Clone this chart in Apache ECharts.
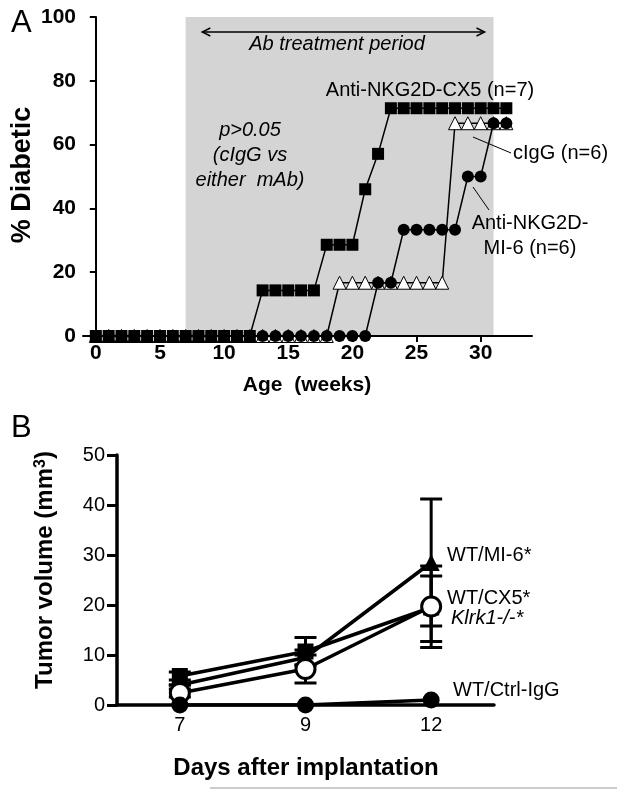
<!DOCTYPE html>
<html><head><meta charset="utf-8">
<script src="https://cdn.jsdelivr.net/npm/echarts@6/dist/echarts.min.js"></script>
<style>html,body{margin:0;padding:0;background:#fff}#c{width:617px;height:789px}</style>
</head><body><div id="c"></div>
<script>
// ---------- Panel A data ----------
const weeks = [0,1,2,3,4,5,6,7,8,9,10,11,12,13,14,15,16,17,18,19,20,21,22,23,24,25,26,27,28,29,30,31,32];
const cx5  = [0,0,0,0,0,0,0,0,0,0,0,0,0,14.3,14.3,14.3,14.3,14.3,28.6,28.6,28.6,46,57.1,71.4,71.4,71.4,71.4,71.4,71.4,71.4,71.4,71.4,71.4];
const cigg = [0,0,0,0,0,0,0,0,0,0,0,0,0,0,0,0,0,0,0,16.7,16.7,16.7,16.7,16.7,16.7,16.7,16.7,16.7,66.7,66.7,66.7,66.7,66.7];
const mi6  = [0,0,0,0,0,0,0,0,0,0,0,0,0,0,0,0,0,0,0,0,0,0,16.7,16.7,33.3,33.3,33.3,33.3,33.3,50,50,66.7,66.7];
const weekTicks = [0,5,10,15,20,25,30];
const treatStart = 7, treatEnd = 31;
const arrowFrom = 8.3, arrowTo = 30.3, arrowLevel = 95.3;

// ---------- Panel B data ----------
const days = ['7','9','12'];
const wtMI6  = [4.0, 9.5, 28.5];
const wtMI6Lo = [4.0, 8.0, 15.8];
const wtMI6Hi = [4.0, 11.0, 41.2];
const wtCX5  = [5.8, 10.7, 19.5];
const wtCX5Lo = [5.0, 8.0, 12.7];
const wtCX5Hi = [6.6, 13.5, 25.8];
const klrk1  = [2.4, 7.2, 19.7];
const klrk1Lo = [1.6, 4.4, 11.5];
const klrk1Hi = [3.2, 10.0, 27.8];
const ctrlIgG = [0, 0, 1.0];

const chart = echarts.init(document.getElementById('c'), null, {renderer:'canvas'});
const FONT = 'Liberation Sans, Arial, sans-serif';

function pairs(xs, ys){ return xs.map((x,i)=>[x, ys[i]]); }
function errData(lo, hi){ return lo.map((l,i)=>[i, l, hi[i]]); }

function errRender(params, api){
  const lo = api.coord([api.value(0), api.value(1)]);
  const hi = api.coord([api.value(0), api.value(2)]);
  const w = 11;
  const st = {stroke:'#000', lineWidth:3};
  return {type:'group', children:[
    {type:'line', shape:{x1:lo[0],y1:lo[1],x2:hi[0],y2:hi[1]}, style:st},
    {type:'line', shape:{x1:hi[0]-w,y1:hi[1],x2:hi[0]+w,y2:hi[1]}, style:st},
    {type:'line', shape:{x1:lo[0]-w,y1:lo[1],x2:lo[0]+w,y2:lo[1]}, style:st}
  ]};
}

const option = {
  animation:false,
  backgroundColor:'#fff',
  grid:[
    {left:83, top:17, width:449, height:319},
    {left:117, top:455, width:377, height:250}
  ],
  xAxis:[
    {gridIndex:0, type:'value', min:-1, max:34, z:1,
      axisLine:{lineStyle:{color:'#000', width:2}},
      axisTick:{customValues:weekTicks, length:6, lineStyle:{color:'#000', width:2}},
      axisLabel:{customValues:weekTicks, color:'#000', fontSize:21, fontWeight:'bold', fontFamily:FONT, margin:7},
      splitLine:{show:false}},
    {gridIndex:1, type:'category', data:days, boundaryGap:true, z:1,
      axisLine:{lineStyle:{color:'#000', width:3.5}},
      axisTick:{alignWithLabel:true, length:7, lineStyle:{color:'#000', width:3}},
      axisLabel:{color:'#000', fontSize:20, fontFamily:FONT, margin:10},
      splitLine:{show:false}}
  ],
  yAxis:[
    {gridIndex:0, type:'value', min:0, max:100, interval:20, z:1,
      axisLine:{show:true, lineStyle:{color:'#000', width:2}},
      axisTick:{show:true, length:6, lineStyle:{color:'#000', width:2}},
      axisLabel:{color:'#000', fontSize:21, fontWeight:'bold', fontFamily:FONT, margin:7},
      splitLine:{show:false}},
    {gridIndex:1, type:'value', min:0, max:50, interval:10, z:1,
      axisLine:{show:true, lineStyle:{color:'#000', width:3.5}},
      axisTick:{show:true, length:10, lineStyle:{color:'#000', width:3}},
      axisLabel:{color:'#000', fontSize:20, fontFamily:FONT, margin:12},
      splitLine:{show:false}}
  ],
  series:[
    {type:'line', xAxisIndex:0, yAxisIndex:0, data:[], z:0, silent:true,
      markArea:{silent:true, itemStyle:{color:'#d4d4d4'},
        data:[[{coord:[treatStart,0]},{coord:[treatEnd,100]}]]}},
    {name:'cIgG', type:'line', xAxisIndex:0, yAxisIndex:0, data:pairs(weeks,cigg), z:2,
      symbol:'triangle', symbolSize:13, showSymbol:true,
      lineStyle:{color:'#000', width:1.5}, itemStyle:{color:'#fff', borderColor:'#000', borderWidth:1}},
    {name:'MI-6', type:'line', xAxisIndex:0, yAxisIndex:0, data:pairs(weeks,mi6), z:3,
      symbol:'circle', symbolSize:12, showSymbol:true,
      lineStyle:{color:'#000', width:1.5}, itemStyle:{color:'#000'}},
    {name:'CX5', type:'line', xAxisIndex:0, yAxisIndex:0, data:pairs(weeks,cx5), z:4,
      symbol:'rect', symbolSize:12, showSymbol:true,
      lineStyle:{color:'#000', width:1.5}, itemStyle:{color:'#000'}},

    {type:'custom', xAxisIndex:1, yAxisIndex:1, data:errData(wtMI6Lo,wtMI6Hi), renderItem:errRender, z:2, encode:{x:0,y:[1,2]}},
    {type:'custom', xAxisIndex:1, yAxisIndex:1, data:errData(wtCX5Lo,wtCX5Hi), renderItem:errRender, z:2, encode:{x:0,y:[1,2]}},
    {type:'custom', xAxisIndex:1, yAxisIndex:1, data:errData(klrk1Lo,klrk1Hi), renderItem:errRender, z:2, encode:{x:0,y:[1,2]}},
    {name:'WT/MI-6*', type:'line', xAxisIndex:1, yAxisIndex:1, data:wtMI6, z:3,
      symbol:'triangle', symbolSize:17, lineStyle:{color:'#000', width:3.5}, itemStyle:{color:'#000'}},
    {name:'WT/CX5*', type:'line', xAxisIndex:1, yAxisIndex:1, data:wtCX5, z:4,
      symbol:'rect', symbolSize:16, lineStyle:{color:'#000', width:3.5}, itemStyle:{color:'#000'}},
    {name:'Klrk1-/-*', type:'line', xAxisIndex:1, yAxisIndex:1, data:klrk1, z:5,
      symbol:'circle', symbolSize:19, lineStyle:{color:'#000', width:3.5}, itemStyle:{color:'#fff', borderColor:'#000', borderWidth:3}},
    {name:'WT/Ctrl-IgG', type:'line', xAxisIndex:1, yAxisIndex:1, data:ctrlIgG, z:6,
      symbol:'circle', symbolSize:17, lineStyle:{color:'#000', width:3.5}, itemStyle:{color:'#000'}}
  ]
};
chart.setOption(option);

// annotations positioned from data coordinates
const a1 = chart.convertToPixel({xAxisIndex:0, yAxisIndex:0}, [arrowFrom, arrowLevel]);
const a2 = chart.convertToPixel({xAxisIndex:0, yAxisIndex:0}, [arrowTo, arrowLevel]);
const lineSt = {stroke:'#000', lineWidth:1.5, fill:null};
const txt = (x,y,text,extra)=>({type:'text', z:100, x:x, y:y, style:Object.assign({text:text, fill:'#000', font:'20px '+FONT, textAlign:'center', textVerticalAlign:'middle'}, extra||{})});

chart.setOption({graphic:[
  {type:'line', z:100, shape:{x1:a1[0],y1:a1[1],x2:a2[0],y2:a2[1]}, style:lineSt},
  {type:'polyline', z:100, shape:{points:[[a1[0]+8,a1[1]-4],[a1[0],a1[1]],[a1[0]+8,a1[1]+4]]}, style:lineSt},
  {type:'polyline', z:100, shape:{points:[[a2[0]-8,a2[1]-4],[a2[0],a2[1]],[a2[0]-8,a2[1]+4]]}, style:lineSt},
  txt(337,44,'Ab treatment period',{font:'italic 20px '+FONT}),
  txt(11,23,'A',{font:'31px '+FONT, textAlign:'left'}),
  txt(11,428,'B',{font:'31px '+FONT, textAlign:'left'}),
  {type:'text', z:100, x:23, y:175, rotation:Math.PI/2, style:{text:'% Diabetic', fill:'#000', font:'bold 27px '+FONT, textAlign:'center', textVerticalAlign:'middle'}},
  txt(307,385,'Age  (weeks)',{font:'bold 21px '+FONT}),
  txt(430,90,'Anti-NKG2D-CX5 (n=7)'),
  txt(250,130,'p>0.05',{font:'italic 20px '+FONT}),
  txt(250,155,'(cIgG vs',{font:'italic 20px '+FONT}),
  txt(250,180,'either  mAb)',{font:'italic 20px '+FONT}),
  txt(513,153,'cIgG (n=6)',{textAlign:'left'}),
  {type:'line', z:100, shape:{x1:473,y1:137,x2:511,y2:153}, style:{stroke:'#000', lineWidth:1}},
  txt(530,223,'Anti-NKG2D-'),
  txt(530,248,'MI-6 (n=6)'),
  {type:'line', z:100, shape:{x1:473,y1:187,x2:489,y2:210}, style:{stroke:'#000', lineWidth:1}},
  {type:'text', z:100, x:45, y:570, rotation:Math.PI/2, style:{
    text:'Tumor volume (mm{sup|3})', fill:'#000', font:'bold 24px '+FONT, textAlign:'center', textVerticalAlign:'middle',
    rich:{sup:{font:'bold 16px '+FONT, fill:'#000', verticalAlign:'top', padding:[0,0,9,0]}}}},
  txt(447,555,'WT/MI-6*',{textAlign:'left'}),
  txt(447,598,'WT/CX5*',{textAlign:'left'}),
  txt(451,618,'Klrk1-/-*',{textAlign:'left', font:'italic 20px '+FONT}),
  txt(453,690,'WT/Ctrl-IgG',{textAlign:'left'}),
  txt(306,768,'Days after implantation',{font:'bold 24px '+FONT}),
  {type:'line', z:100, shape:{x1:210,y1:788,x2:617,y2:788}, style:{stroke:'#999', lineWidth:1}}
]});
</script></body></html>
